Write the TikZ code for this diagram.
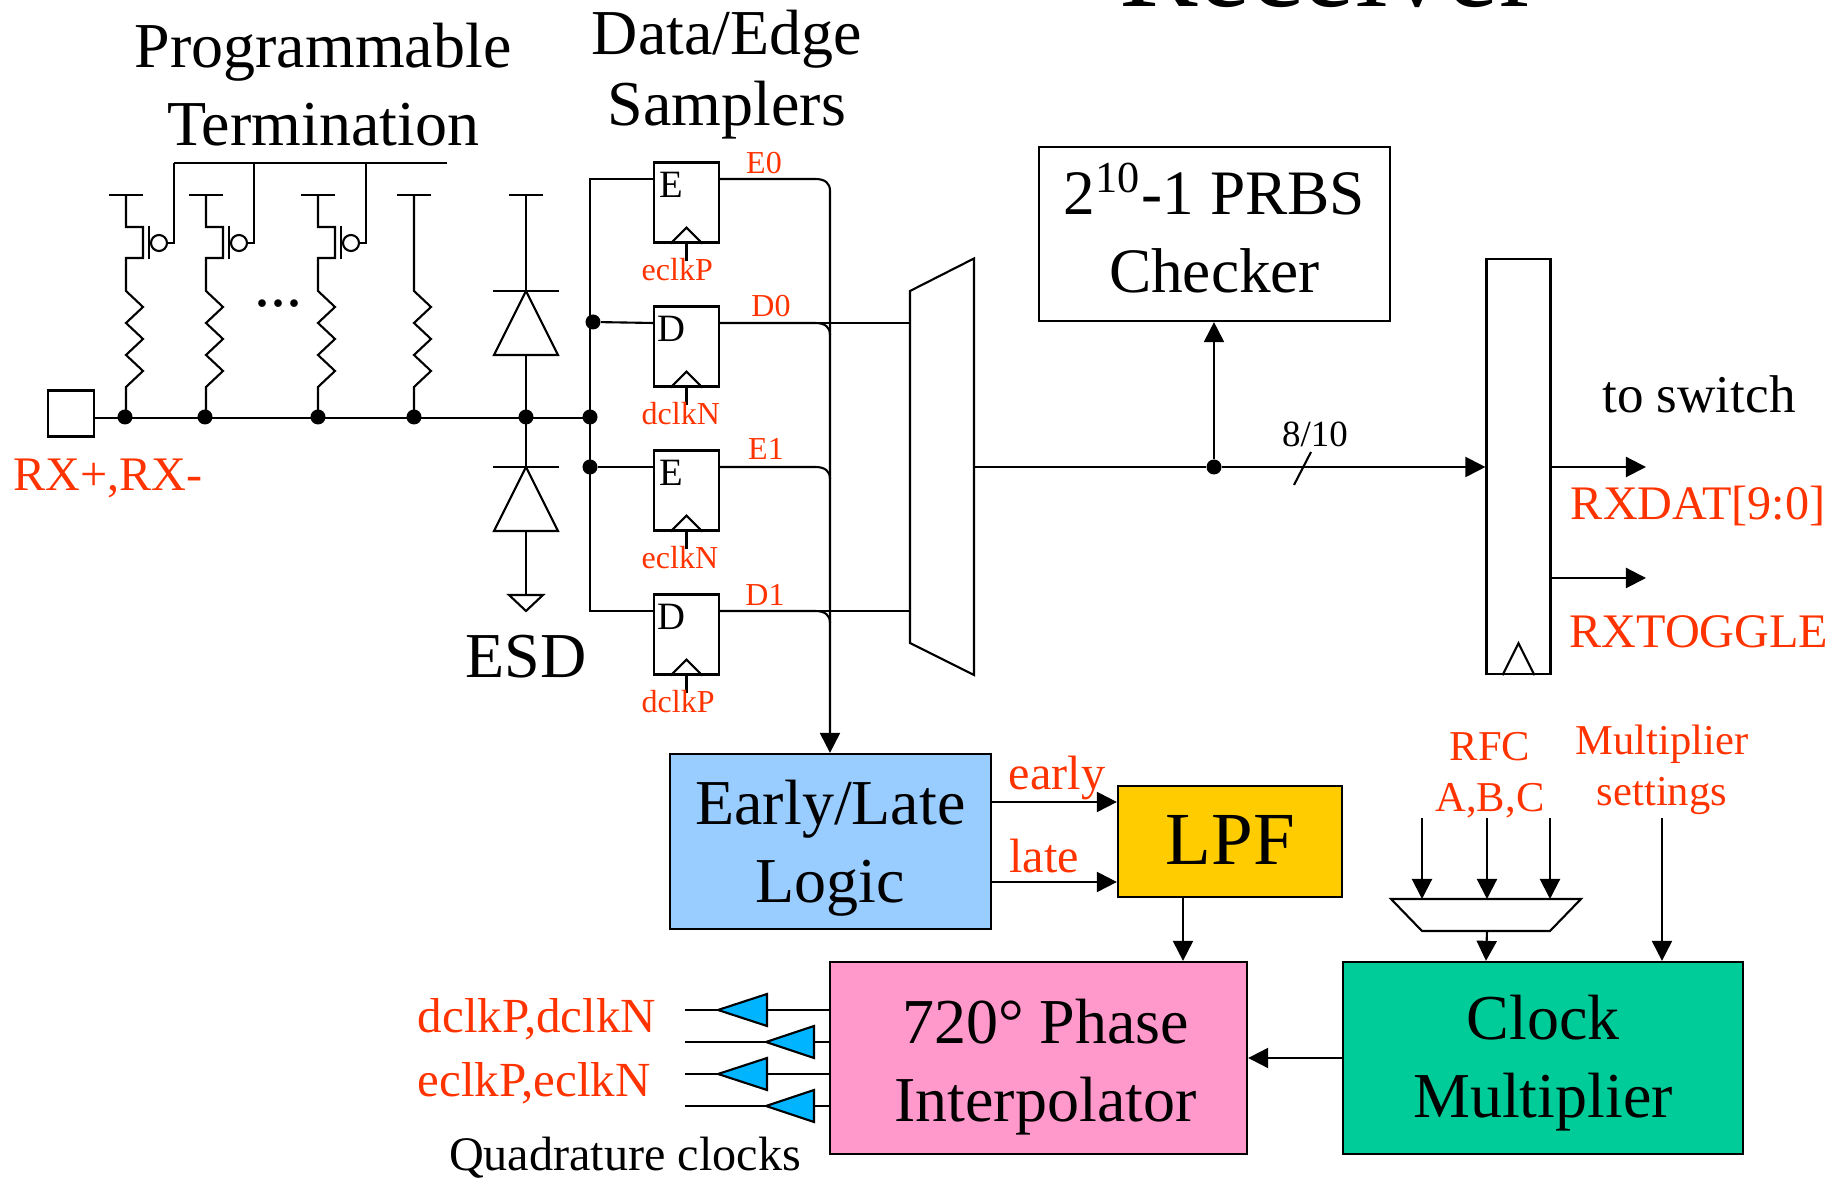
\documentclass[tikz,border=0pt]{standalone}
\usepackage{xcolor}
\usepackage{fontspec}
\setmainfont{Liberation Serif}
\usepackage{tikz}
\usetikzlibrary{arrows.meta}

\definecolor{labelred}{HTML}{FF3300}
\definecolor{elblue}{HTML}{99CCFF}
\definecolor{lpfyellow}{HTML}{FFCC00}
\definecolor{pipink}{HTML}{FF99CC}
\definecolor{cmgreen}{HTML}{00CC99}
\definecolor{bufblue}{HTML}{00B4FF}

\tikzset{
	wire/.style={line width=.6pt},
	>={Triangle[length=.2cm,width=.2cm]},
	junct/.style={circle,fill=black,inner sep=0pt,minimum size=.15cm},
	blockbox/.style={draw,line width=.6pt,inner sep=0pt},
	flop/.style={draw,line width=.6pt,inner sep=0pt,minimum width=.65cm,minimum height=.8cm},
	flopletter/.style={inner sep=0pt,anchor=base west,font=\fontsize{11}{13}\selectfont},
	bigtext/.style={inner sep=0pt,align=center,font=\fontsize{18.2}{22.2}\selectfont},
	midtext/.style={inner sep=0pt,font=\fontsize{13.7}{16}\selectfont},
	settext/.style={inner sep=0pt,align=center,text=labelred,font=\fontsize{12.1}{14.6}\selectfont},
	smalltext/.style={inner sep=0pt,font=\fontsize{9.1}{11}\selectfont},
	redmid/.style={midtext,text=labelred},
	redsmall/.style={smalltext,text=labelred}
}

% one resistor, drawn downwards from where the path stands
\newcommand{\zigzag}{-- ++(17,16) -- ++(-17,16) -- ++(17,16) -- ++(-17,16) -- ++(17,16) -- ++(-17,16)}
% leg with pmos switch
\newcommand{\pmosleg}[1]{
	\draw[wire] (#1,195) ++(-17,0) -- ++(34,0);
	\draw[wire] (#1,195) -- ++(0,32) -- ++(17,0) -- ++(0,31) -- ++(-17,0) -- (#1,291) \zigzag -- (#1,418);
	\draw[wire] (#1,226) ++(23,0) -- ++(0,33);
	\draw[wire] (#1,243) ++(33,0) circle (.08cm);
	\draw[wire] (#1,243) ++(41,0) -- ++(7,0) -- ++(0,-80);
}
% clock wedge and stub under a sampler
\newcommand{\clkwedge}[1]{
	\draw[wire] (#1.south) ++(-16,0) -- ++(16,-16) -- ++(16,16);
	\draw[wire] (#1.south) -- ++(0,17);
}

\begin{document}
\begin{tikzpicture}[x=.01cm,y=-.01cm]
	\useasboundingbox (0,0) rectangle (1844,1180);
	%
	% titles
	\node[font=\fontsize{33.5}{36}\selectfont,inner sep=0pt,anchor=base] (Title) at (1329,7) {Receiver};
	\node[bigtext] (Term) at (323,85) {Programmable\\Termination};
	\node[bigtext,font=\fontsize{18.2}{20.2}\selectfont] (Samp) at (727,75) {Data/Edge\\Samplers};
	\node[bigtext,anchor=base] (ESD) at (526,678) {ESD};
	%
	% pad and termination
	\node[draw,line width=.6pt,minimum size=.46cm,inner sep=0pt] (Pad) at (71,413.5) {};
	\node[redmid,anchor=base west] (PadL) at (13,491) {RX+,RX-};
	\pmosleg{126}
	\pmosleg{206}
	\pmosleg{318}
	\draw[wire] (414,195) ++(-17,0) -- ++(34,0);
	\draw[wire] (414,195) -- (414,291) \zigzag -- (414,418);
	\draw[wire] (174,163) -- (447,163);
	\node[bigtext,anchor=base] (Dots) at (278,307) {...};
	%
	\node[junct] (J1) at (125,417) {};
	\node[junct] (J2) at (205,417) {};
	\node[junct] (J3) at (318,417) {};
	\node[junct] (J4) at (414,417) {};
	\node[junct] (J5) at (526,417) {};
	\node[junct] (J6) at (590,417) {};
	\node[junct] (JD0) at (593,322) {};
	\node[junct] (JE1) at (590,467) {};
	\coordinate (PadR) at (Pad.east |- 0,418);
	\draw[wire] (PadR) -- (590,418);
	%
	% esd diodes
	\draw[wire] (509,195) -- (543,195) (526,195) -- (526,291);
	\draw[wire] (493,291) -- (559,291);
	\draw[wire] (526,291) -- (558,355) -- (494,355) -- cycle;
	\draw[wire] (526,355) -- (526,467);
	\draw[wire] (493,467) -- (559,467);
	\draw[wire] (526,467) -- (558,531) -- (494,531) -- cycle;
	\draw[wire] (526,531) -- (526,595);
	\draw[wire] (509,595) -- (543,595) -- (526,611) -- cycle;
	%
	% samplers
	\node[flop] (E0) at (686.5,202.5) {};
	\node[flop] (D0) at (686.5,346.5) {};
	\node[flop] (E1) at (686.5,490.5) {};
	\node[flop] (D1) at (686.5,634.5) {};
	\clkwedge{E0}
	\clkwedge{D0}
	\clkwedge{E1}
	\clkwedge{D1}
	\node[flopletter] (E0t) at (659,198) {E};
	\node[flopletter] (D0t) at (657,342) {D};
	\node[flopletter] (E1t) at (659,486) {E};
	\node[flopletter] (D1t) at (657,630) {D};
	\node[redsmall,anchor=base] (E0L) at (764,174) {E0};
	\node[redsmall,anchor=base] (D0L) at (771,317) {D0};
	\node[redsmall,anchor=base] (E1L) at (766,460) {E1};
	\node[redsmall,anchor=base] (D1L) at (765,606) {D1};
	\node[redsmall,anchor=base west] (E0c) at (641,281) {eclkP};
	\node[redsmall,anchor=base west] (D0c) at (641,425) {dclkN};
	\node[redsmall,anchor=base west] (E1c) at (641,569) {eclkN};
	\node[redsmall,anchor=base west] (D1c) at (641,713) {dclkP};
	%
	% bus into the samplers
	\coordinate (Top) at (E0.west |- 0,179);
	\coordinate (Mid0) at (D0.west |- 0,323);
	\coordinate (Mid1) at (E1.west |- 0,467);
	\coordinate (Bot) at (D1.west |- 0,611);
	\draw[wire] (Top) -- (590,179) -- (590,611) -- (Bot);
	\draw[wire] (JD0) -- (Mid0);
	\draw[wire] (JE1) -- (Mid1);
	%
	% blocks
	\node[blockbox,fill=elblue,minimum width=3.21cm,minimum height=1.75cm] (Logic) at (830.5,841.5) {};
	\node[blockbox,fill=lpfyellow,minimum width=2.24cm,minimum height=1.11cm] (LPF) at (1230,841.5) {};
	\node[blockbox,fill=pipink,minimum width=4.17cm,minimum height=1.92cm] (PI) at (1038.5,1058) {};
	\node[blockbox,fill=cmgreen,minimum width=4cm,minimum height=1.92cm] (CM) at (1543,1058) {};
	\node[blockbox,minimum width=3.51cm,minimum height=1.74cm] (PRBS) at (1214.5,234) {};
	\node[bigtext] (LogicT) at (830.5,848) {Early/Late\\Logic};
	\node[bigtext,font=\fontsize{21.3}{24}\selectfont] (LPFT) at (1230.5,840) {LPF};
	\node[bigtext] (PIT) at (1045.5,1067) {720° Phase\\Interpolator};
	\node[bigtext] (CMT) at (1543,1063) {Clock\\Multiplier};
	\node[bigtext,font=\fontsize{18}{22.2}\selectfont] (PRBST) at (1214.5,228) {2\textsuperscript{10}-1 PRBS\\Checker};
	%
	% sampler outputs
	\coordinate (Bus) at (830,754);
	\coordinate (E0o) at (E0.east |- 0,179);
	\coordinate (D0o) at (D0.east |- 0,323);
	\coordinate (E1o) at (E1.east |- 0,467);
	\coordinate (D1o) at (D1.east |- 0,611);
	\draw[wire,->] (E0o) -- (815,179) .. controls (825,179) and (830,183) .. (830,191) -- (Logic.north -| Bus);
	\draw[wire] (D0o) -- (815,323) .. controls (825,323) and (830,327) .. (830,335);
	\draw[wire] (E1o) -- (815,467) .. controls (825,467) and (830,471) .. (830,479);
	\draw[wire] (D1o) -- (815,611) .. controls (825,611) and (830,615) .. (830,623);
	%
	% mux and register
	\draw[wire] (910,291) coordinate (MuxA) -- (974,258.5) -- (974,675) -- (910,643) -- cycle;
	\coordinate (MuxO) at (974,467);
	\draw[wire] (815,323) -- (MuxA |- 0,323);
	\draw[wire] (815,611) -- (MuxA |- 0,611);
	\node[draw,line width=.6pt,inner sep=0pt,minimum width=.64cm,minimum height=4.15cm] (Reg) at (1518.5,466.5) {};
	\draw[wire] (Reg.south) ++(-16,0) -- ++(16,-32) -- ++(16,32);
	\node[junct] (J7) at (1214,467) {};
	\draw[wire,->] (MuxO) -- (J7) -- (Reg.west |- J7);
	\draw[wire,->] (J7) -- (PRBS.south -| J7);
	\node[inner sep=0pt,anchor=base,font=\fontsize{10.5}{12}\selectfont] (Width) at (1315,447) {8/10};
	\draw[wire] (1311,452) -- (1294,485);
	%
	\coordinate (OutA) at (1646,467);
	\coordinate (OutB) at (1646,578);
	\draw[wire,->] (Reg.east |- OutA) -- (OutA);
	\draw[wire,->] (Reg.east |- OutB) -- (OutB);
	\node[inner sep=0pt,anchor=base,font=\fontsize{15.1}{18}\selectfont] (Sw) at (1699,413) {to switch};
	\node[redmid,anchor=base] (RxD) at (1698,520) {RXDAT[9:0]};
	\node[redmid,anchor=base] (RxT) at (1699,648) {RXTOGGLE};
	%
	% early/late, lpf, interpolator
	\coordinate (Ear) at (1118,802);
	\coordinate (Lat) at (1118,882);
	\draw[wire,->] (Logic.east |- Ear) -- (LPF.west |- Ear);
	\draw[wire,->] (Logic.east |- Lat) -- (LPF.west |- Lat);
	\node[redmid,anchor=base] (EarL) at (1057,790) {early};
	\node[redmid,anchor=base] (LatL) at (1044,873) {late};
	\coordinate (LPFo) at (1183,897);
	\draw[wire,->] (LPF.south -| LPFo) -- (PI.north -| LPFo);
	\draw[wire,->] (CM.west) -- (PI.east);
	%
	% reference mux and settings
	\draw[wire] (1391,899) -- (1581,899) -- (1550,931) -- (1422,931) -- cycle;
	\coordinate (Ra) at (1422,899);
	\coordinate (Rb) at (1486,899);
	\coordinate (Rc) at (1550,899);
	\draw[wire,->] (1422,818) -- (Ra);
	\draw[wire,->] (1487,818) -- (1487,899);
	\draw[wire,->] (1550,818) -- (Rc);
	\draw[wire,->] (1487,931) -- (CM.north -| Rb);
	\coordinate (Mset) at (1662,818);
	\draw[wire,->] (Mset) -- (CM.north -| Mset);
	\node[settext] (RFC) at (1490,775.5) {RFC\\A,B,C};
	\node[settext] (MS) at (1662,770) {Multiplier\\settings};
	%
	% quadrature buffers
	\coordinate (Q1) at (685,1010);
	\coordinate (Q2) at (685,1042);
	\coordinate (Q3) at (685,1074);
	\coordinate (Q4) at (685,1106);
	\draw[wire] (Q1) -- (PI.west |- Q1);
	\draw[wire] (Q2) -- (PI.west |- Q2);
	\draw[wire] (Q3) -- (PI.west |- Q3);
	\draw[wire] (Q4) -- (PI.west |- Q4);
	\draw[wire,fill=bufblue] (718,1010) -- (767,994) -- (767,1026) -- cycle;
	\draw[wire,fill=bufblue] (766,1042) -- (814,1026) -- (814,1058) -- cycle;
	\draw[wire,fill=bufblue] (718,1074) -- (767,1058) -- (767,1090) -- cycle;
	\draw[wire,fill=bufblue] (766,1106) -- (814,1090) -- (814,1122) -- cycle;
	\node[redmid,anchor=base west,font=\fontsize{13.95}{16}\selectfont] (ClkD) at (417,1033) {dclkP,dclkN};
	\node[redmid,anchor=base west,font=\fontsize{13.95}{16}\selectfont] (ClkE) at (417,1097) {eclkP,eclkN};
	\node[midtext,anchor=base] (Quad) at (625,1171) {Quadrature clocks};
\end{tikzpicture}
\end{document}
